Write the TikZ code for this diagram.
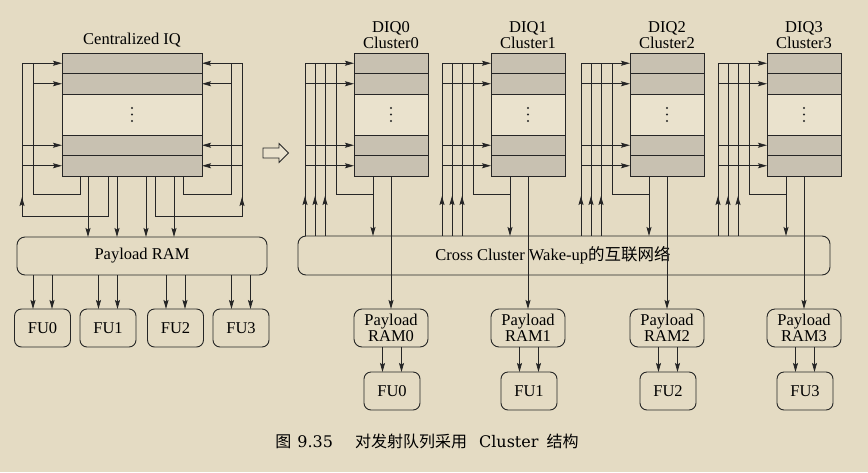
\documentclass[tikz,border=0pt]{standalone}
\usepackage{fontspec}
\setmainfont{Liberation Serif}
\newfontfamily\cjk{Noto Sans CJK SC}
\newfontfamily\capserif{DejaVu Serif}
\usetikzlibrary{arrows.meta,calc}
\definecolor{bg}{HTML}{E4DBC3}
\definecolor{shade}{HTML}{C8C1B1}
\definecolor{paper}{HTML}{EAE2CD}
\definecolor{ink}{HTML}{262626}
\newcommand\mkqueue[4]{%
  \node[qrow, minimum width=#4] (#1-a) at (#2,#3) {};
  \node[qrow, minimum width=#4] (#1-b) at (#1-a.south west) {};
  \node[qgap, minimum width=#4] (#1-c) at (#1-b.south west) {};
  \node[qrow, minimum width=#4] (#1-d) at (#1-c.south west) {};
  \node[qrow, minimum width=#4] (#1-e) at (#1-d.south west) {};
  \foreach \dy in {-6.5,0,6.5}
    \fill[ink] ($(#1-c.center)+(0,\dy)$) circle (1.1pt);
}
\begin{document}
\begin{tikzpicture}[x=1pt,y=-1pt,
  font=\fontsize{16.5}{16}\selectfont,
  ln/.style={draw=ink, line width=0.8pt},
  arr/.style={ln, -{Stealth[length=9pt,width=5pt,inset=1.5pt]}},
  qrow/.style={draw=ink, line width=0.9pt, fill=shade, minimum height=20.5pt,
    inner sep=0pt, outer sep=0pt, anchor=north west},
  qgap/.style={qrow, fill=paper, minimum height=41pt},
  rbox/.style={draw=ink, line width=0.9pt, rounded corners=8pt, inner sep=0pt,
    outer sep=0pt, minimum height=38pt, align=center},
  fubox/.style={rbox, rounded corners=7pt, minimum width=56pt},
  title/.style={align=center, anchor=south, inner sep=0pt}
]
\useasboundingbox (0,0) rectangle (868,472);
\fill[bg] (0,0) rectangle (868,472);

% ---------------- Centralized IQ ----------------
\mkqueue{iq}{62}{53}{140pt}
\node[anchor=base, inner sep=0pt] (iqt) at (132,44) {Centralized IQ};

\coordinate (Lo) at (22,216);
\coordinate (Li) at (33,194);
\coordinate (Ro) at (242,216);
\coordinate (Ri) at (231,194);
\foreach \n/\dx in {f1/18, d1/26, f2/46, d2/55, d3/84, f3/93, d4/112, f4/121}
  \coordinate (\n) at ($(iq-e.south west)+(\dx,0)$);

\draw[ln] (f1) |- (Li) -- (Li |- iq-a.west);
\draw[ln] (f2) |- (Lo) -- (Lo |- iq-a.west);
\draw[arr] (Lo) -- ++(0,-19);
\draw[ln] (f4) |- (Ri) -- (Ri |- iq-a.east);
\draw[ln] (f3) |- (Ro) -- (Ro |- iq-a.east);
\draw[arr] (Ro) -- ++(0,-19);
\foreach \r in {a,d,e} {
  \draw[arr] (Lo |- iq-\r.west) -- (iq-\r.west);
  \draw[arr] (Ro |- iq-\r.east) -- (iq-\r.east);
}
\draw[arr] (Li |- iq-b.west) -- (iq-b.west);
\draw[arr] (Ri |- iq-b.east) -- (iq-b.east);

\node[rbox, minimum width=250pt] (pram) at (142,256) {Payload RAM};
\foreach \n in {d1,d2,d3,d4}
  \draw[arr] (\n) -- (\n |- pram.north);

\foreach \i/\cx in {0/42.5,1/108,2/175.5,3/241} {
  \node[fubox] (fu\i) at (\cx,328) {FU\i};
  \coordinate (fa\i) at ($(fu\i.north)+(-9.5,0)$);
  \coordinate (fb\i) at ($(fu\i.north)+(9.5,0)$);
  \draw[arr] (fa\i |- pram.south) -- (fa\i);
  \draw[arr] (fb\i |- pram.south) -- (fb\i);
}

% ---------------- hollow arrow ----------------
\draw[ln, fill=paper] (263,148) -- (279,148) -- (279,143.5) -- (288.5,153)
  -- (279,162.5) -- (279,158) -- (263,158) -- cycle;

% ---------------- Clusters ----------------
\node[rbox, minimum width=532pt, minimum height=39pt] (cc) at (564,255.5)
  {\hspace*{-22pt}Cross Cluster Wake-up{\cjk 的互联网络}};

\foreach \k/\L in {0/354,1/491,2/630,3/767} {
  \mkqueue{q\k}{\L}{53}{74pt}
  \node[title] (t\k) at ($(q\k-a.north)+(0,-4.5)$) {DIQ\k\\Cluster\k};
  \node[rbox, minimum width=74pt] (pr\k) at (\L+37,328) {Payload\\RAM\k};
  \node[fubox] (cf\k) at (\L+38,391) {FU\k};
  \coordinate (c\k-v1) at (\L-49,0);
  \coordinate (c\k-v2) at (\L-39,0);
  \coordinate (c\k-v3) at (\L-29,0);
  \coordinate (c\k-lp) at (\L-18,194);
  \coordinate (c\k-d) at ($(q\k-e.south west)+(19,0)$);
  \coordinate (c\k-t) at ($(q\k-e.south west)+(37,0)$);
  \foreach \v in {1,2,3} {
    \draw[ln] (c\k-v\v |- q\k-a.west) -- (c\k-v\v |- cc.north);
    \draw[arr] (c\k-v\v |- cc.north) -- ++(0,-40);
  }
  \foreach \r in {a,b,d,e}
    \draw[arr] (c\k-v1 |- q\k-\r.west) -- (q\k-\r.west);
  \draw[arr] (c\k-d) -- (c\k-d |- cc.north);
  \draw[ln] (c\k-d |- c\k-lp) -- (c\k-lp) -- (c\k-lp |- q\k-a.west);
  \draw[arr] (c\k-t) -- (c\k-t |- pr\k.north);
  \coordinate (ga\k) at ($(cf\k.north)+(-9.5,0)$);
  \coordinate (gb\k) at ($(cf\k.north)+(9.5,0)$);
  \draw[arr] (ga\k |- pr\k.south) -- (ga\k);
  \draw[arr] (gb\k |- pr\k.south) -- (gb\k);
}

% ---------------- caption ----------------
\node[anchor=base, inner sep=0pt, font=\fontsize{16}{17}\selectfont] (cap) at (427,447)
  {{\cjk 图}\hspace{6pt}{\capserif 9.35}\hspace{22pt}{\cjk 对发射队列采用}\hspace{12pt}{\capserif Cluster}\hspace{8pt}{\cjk 结构}};
\end{tikzpicture}
\end{document}
